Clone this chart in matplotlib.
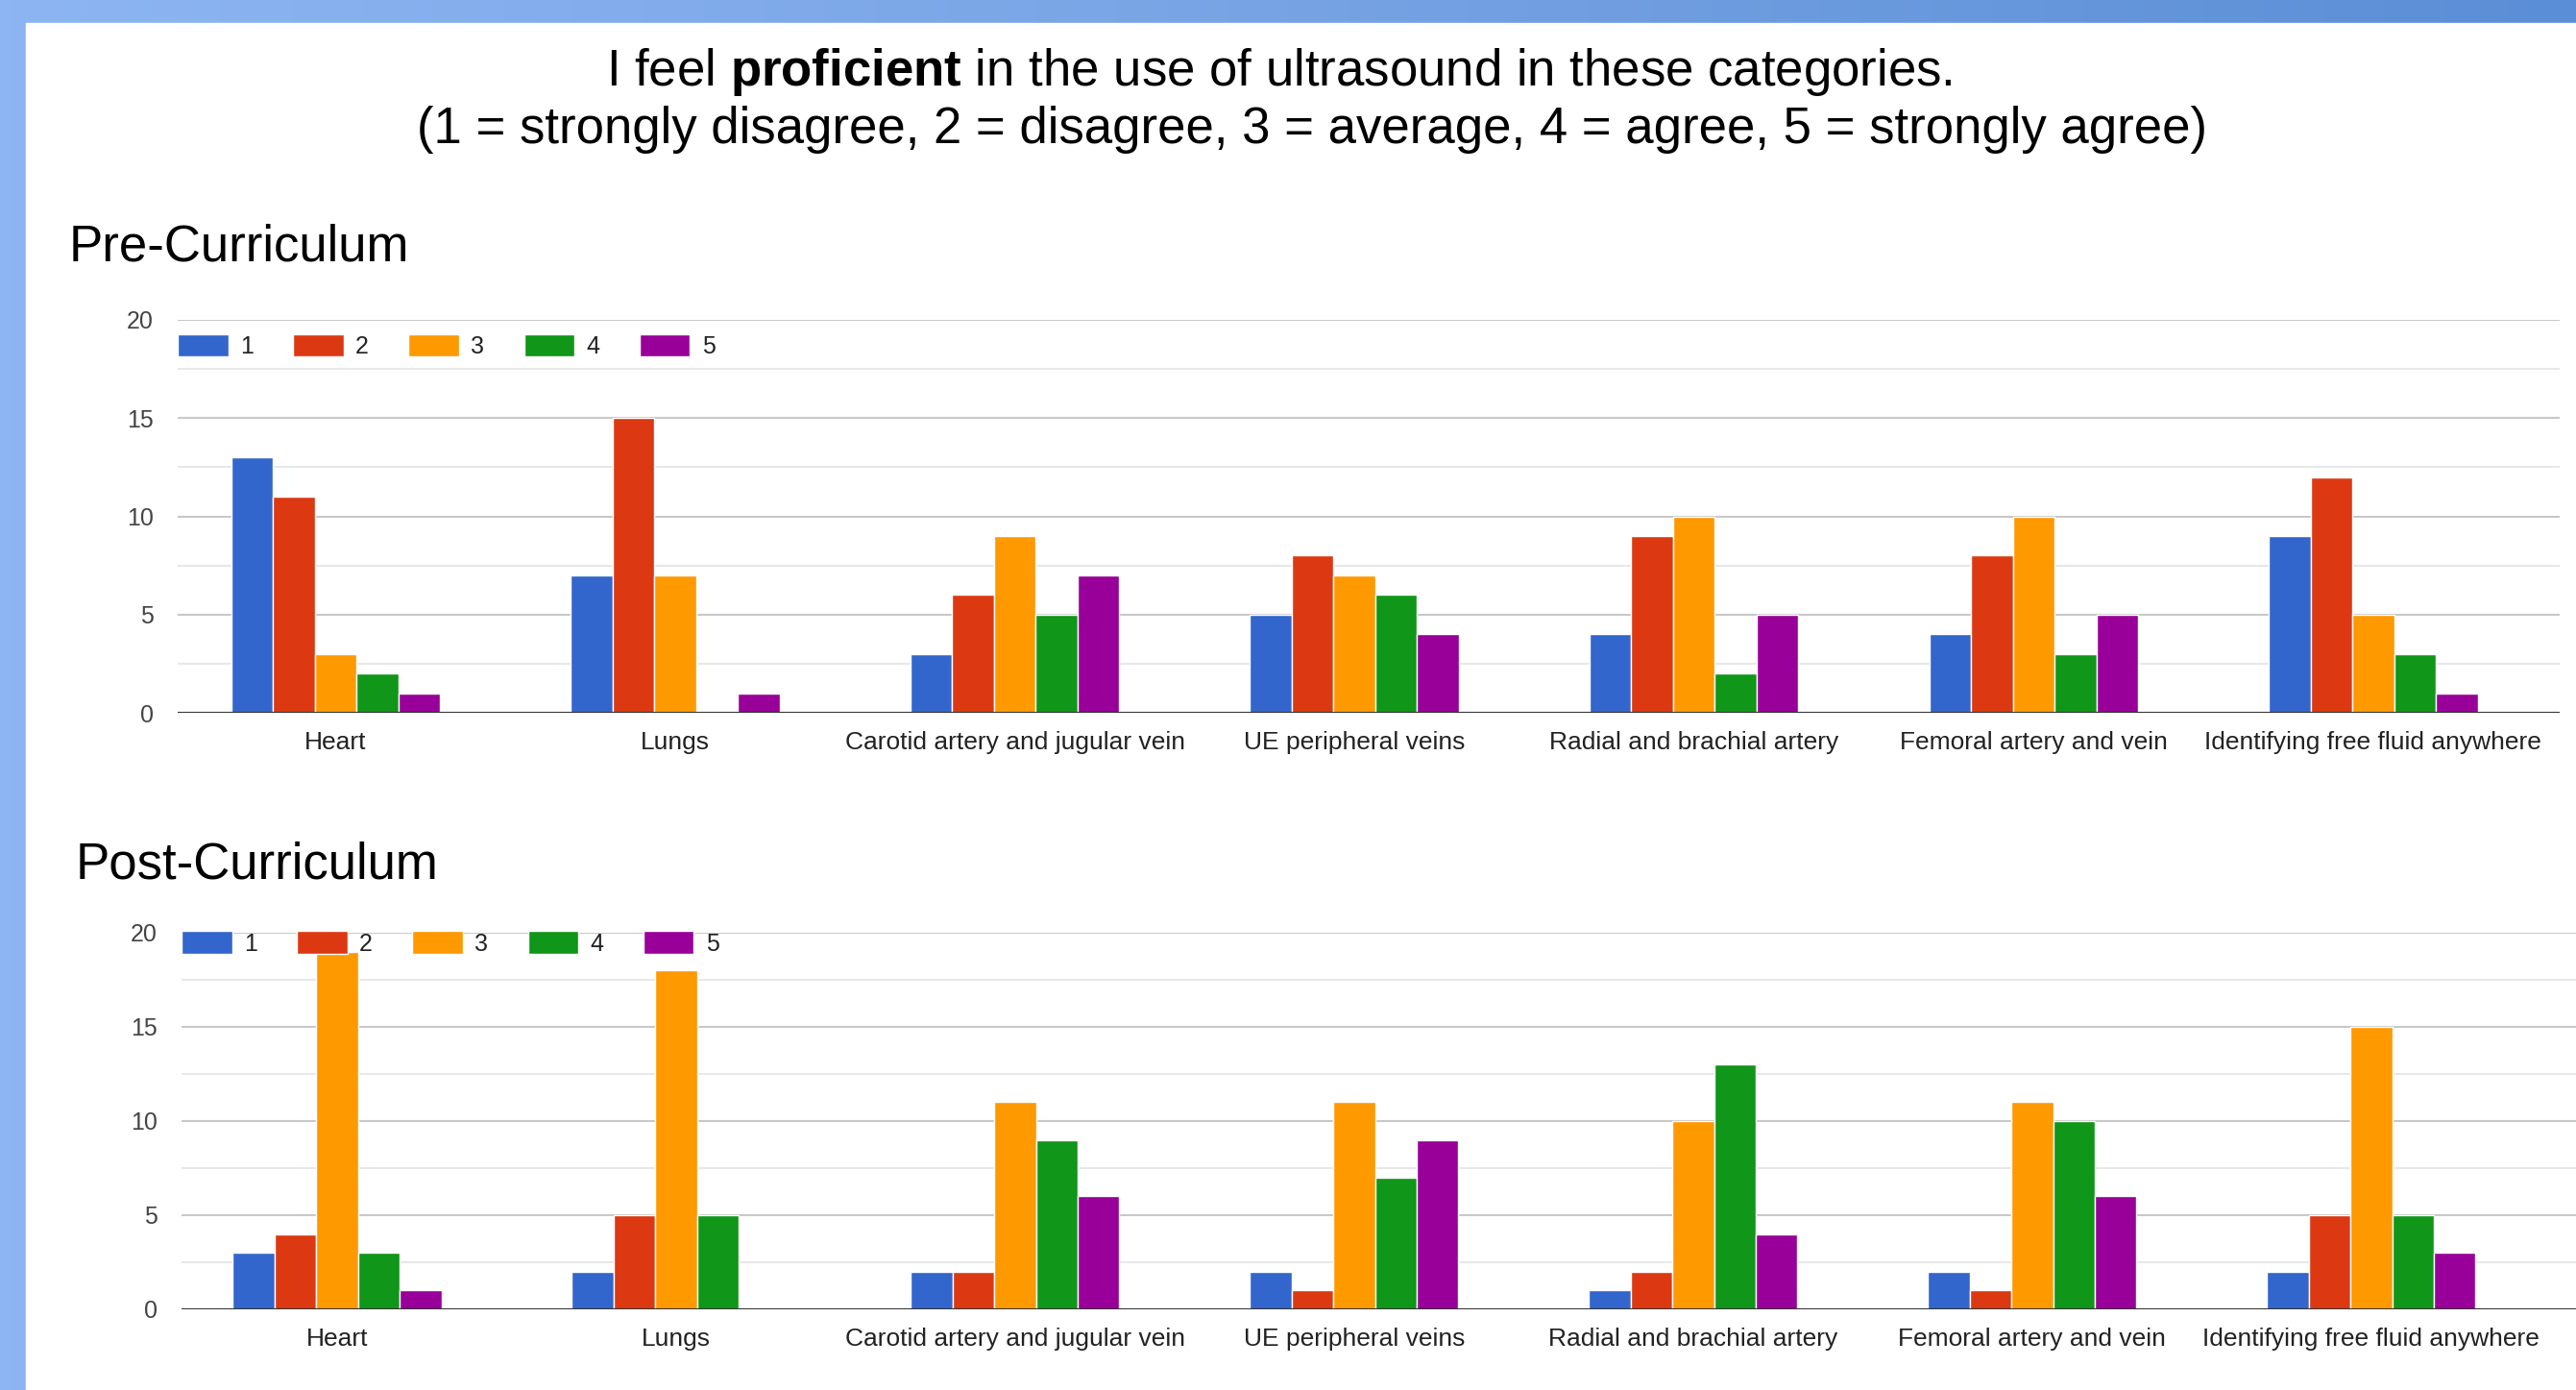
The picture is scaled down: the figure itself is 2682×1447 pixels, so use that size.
import numpy as np
import matplotlib.pyplot as plt
from matplotlib.patches import Rectangle
from matplotlib.colors import LinearSegmentedColormap

plt.rcParams['font.family'] = ['Liberation Sans', 'DejaVu Sans']
plt.rcParams['mathtext.fontset'] = 'custom'
plt.rcParams['mathtext.rm'] = 'Liberation Sans'
plt.rcParams['mathtext.bf'] = 'Liberation Sans:bold'

categories = ["Heart", "Lungs", "Carotid artery and jugular vein", "UE peripheral veins",
              "Radial and brachial artery", "Femoral artery and vein",
              "Identifying free fluid anywhere"]
levels = ["1", "2", "3", "4", "5"]
colors = ["#3366cc", "#dc3912", "#ff9900", "#109618", "#990099"]

# pre-curriculum counts, one list per rating
pre_1 = [13, 7, 3, 5, 4, 4, 9]
pre_2 = [11, 15, 6, 8, 9, 8, 12]
pre_3 = [3, 7, 9, 7, 10, 10, 5]
pre_4 = [2, 0, 5, 6, 2, 3, 3]
pre_5 = [1, 1, 7, 4, 5, 5, 1]

# post-curriculum counts
post_1 = [3, 2, 2, 2, 1, 2, 2]
post_2 = [4, 5, 2, 1, 2, 1, 5]
post_3 = [19, 18, 11, 11, 10, 11, 15]
post_4 = [3, 5, 9, 7, 13, 10, 5]
post_5 = [1, 0, 6, 9, 4, 6, 3]

W, H = 2682, 1447
fig = plt.figure(figsize=(W / 100, H / 100), dpi=100)

# slide background: blue gradient frame, white page
bg = fig.add_axes([0, 0, 1, 1], zorder=-5)
cmap = LinearSegmentedColormap.from_list("frame", ["#8db5f3", "#77a3e4", "#5a8ed6"])
bg.imshow(np.linspace(0, 1, 256)[None, :], cmap=cmap, extent=[0, W, 0, H], aspect='auto')
bg.add_patch(Rectangle((27, 0), W - 27, H - 24, color='white'))
bg.set_xlim(0, W)
bg.set_ylim(0, H)
bg.axis('off')

fig.text(1332 / W, 1 - 75 / H, r"I feel $\mathbf{proficient}$ in the use of ultrasound in these categories.",
         ha='center', va='center', fontsize=38, color='black')
fig.text(1366 / W, 1 - 135 / H,
         "(1 = strongly disagree, 2 = disagree, 3 = average, 4 = agree, 5 = strongly agree)",
         ha='center', va='center', fontsize=38, color='black')


def px_axes(l, t, r, b):
    return fig.add_axes([l / W, 1 - b / H, (r - l) / W, (b - t) / H])


def draw_panel(ax, series, title, title_xy, leg_y, xlim):
    x = np.arange(len(categories))
    w = 0.123
    handles = []
    for i, vals in enumerate(series):
        bars = ax.bar(x + (i - 2) * w, vals, width=w, color=colors[i],
                      edgecolor='white', linewidth=1.0, zorder=3)
        handles.append(bars)
    ax.set_xlim(*xlim)
    ax.set_ylim(0, 20)
    ax.set_yticks([0, 5, 10, 15, 20])
    ax.set_yticks([2.5, 7.5, 12.5, 17.5], minor=True)
    ax.grid(axis='y', which='major', color='#c8c8c8', linewidth=1.5, zorder=0)
    ax.grid(axis='y', which='minor', color='#e8e8e8', linewidth=1.5, zorder=0)
    ax.axhline(0, color='#333333', linewidth=2.2, zorder=4)
    ax.set_xticks(x)
    ax.set_xticklabels(categories, fontsize=19, color='#222222')
    ax.tick_params(axis='x', length=0, pad=14)
    ax.tick_params(axis='y', which='both', length=0, pad=18, labelsize=18, labelcolor='#444444')
    for s in ax.spines.values():
        s.set_visible(False)
    ax.legend(handles, levels, loc='upper left', bbox_to_anchor=(0, leg_y), ncol=5,
              frameon=False, handlelength=2.1, handleheight=1.05, handletextpad=0.5,
              columnspacing=1.65, borderaxespad=0, borderpad=0, fontsize=18,
              labelcolor='#222222')
    fig.text(title_xy[0] / W, 1 - title_xy[1] / H, title, ha='left', va='center',
             fontsize=38, color='black')


ax1 = px_axes(185, 333, 2665, 742)
draw_panel(ax1, [pre_1, pre_2, pre_3, pre_4, pre_5], "Pre-Curriculum", (72, 257), 0.963,
           (-0.465, 6.549))

ax2 = px_axes(189, 971, 2682, 1363)
draw_panel(ax2, [post_1, post_2, post_3, post_4, post_5], "Post-Curriculum", (79, 901), 1.004,
           (-0.459, 6.604))

fig.savefig("out.png", dpi=100)
